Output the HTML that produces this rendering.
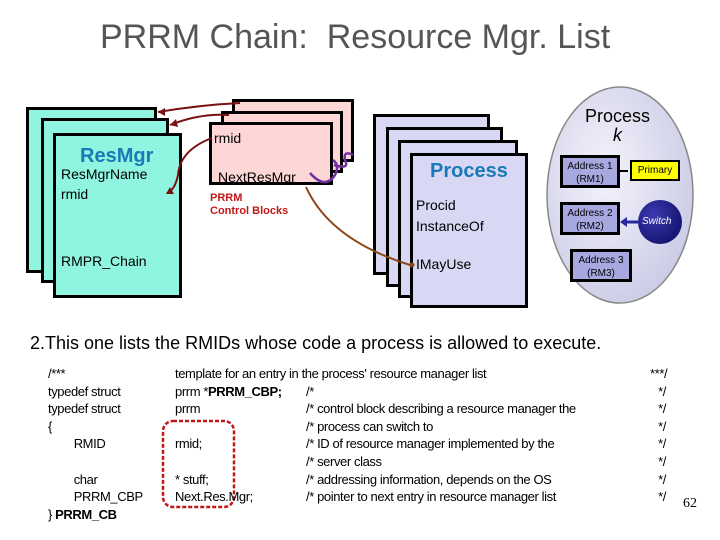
<!DOCTYPE html>
<html><head><meta charset="utf-8"><style>
body{margin:0;width:720px;height:540px;background:#fff;position:relative;overflow:hidden;font-family:"Liberation Sans",sans-serif}
.a{position:absolute;white-space:nowrap}
.c{position:absolute;border:3px solid #000;box-sizing:border-box}
.cy{background:#8ff5e0}.pk{background:#fdd6d6}.pr{background:#d8d8f4}
.ad{position:absolute;background:#a8a8e0;border:3px solid #000;box-sizing:border-box;font-size:10px;text-align:center;line-height:13px;padding-top:2px}
.code{font-size:13px;color:#000;letter-spacing:-0.4px}
</style></head><body>
<div class="a" style="left:100px;top:18px;font-size:34px;color:#555">PRRM Chain:&nbsp; Resource Mgr. List</div>

<div class="c cy" style="left:26px;top:107px;width:131px;height:166px"></div>
<div class="c cy" style="left:41px;top:118px;width:128px;height:165px"></div>
<div class="c cy" style="left:53px;top:133px;width:129px;height:165px"></div>
<div class="a" style="left:80px;top:145px;font-size:20px;font-weight:bold;color:#1a7ab8">Res<span>Mgr</span></div>
<div class="a" style="left:61px;top:166px;font-size:14px">ResMgrName</div>
<div class="a" style="left:61px;top:186px;font-size:14px">rmid</div>
<div class="a" style="left:61px;top:253px;font-size:14px">RMPR_Chain</div>

<div class="c pk" style="left:232px;top:99px;width:122px;height:63px"></div>
<div class="c pk" style="left:221px;top:111px;width:122px;height:62px"></div>
<div class="c pk" style="left:209px;top:122px;width:124px;height:63px"></div>
<div class="a" style="left:214px;top:130px;font-size:14px">rmid</div>
<div class="a" style="left:218px;top:169px;font-size:14px">NextResMgr</div>
<div class="a" style="left:210px;top:192px;font-size:11px;font-weight:bold;color:#c01818;line-height:13px">PRRM<br>Control Blocks</div>

<div class="c pr" style="left:373px;top:114px;width:117px;height:161px"></div>
<div class="c pr" style="left:386px;top:127px;width:117px;height:160px"></div>
<div class="c pr" style="left:398px;top:140px;width:120px;height:158px"></div>
<div class="c pr" style="left:410px;top:153px;width:118px;height:155px"></div>
<div class="a" style="left:430px;top:160px;font-size:20px;font-weight:bold;color:#1a7ab8">Process</div>
<div class="a" style="left:416px;top:197px;font-size:14px">Procid</div>
<div class="a" style="left:416px;top:218px;font-size:14px">InstanceOf</div>
<div class="a" style="left:416px;top:256px;font-size:14px">IMayUse</div>

<svg class="a" style="left:0;top:0" width="720" height="540">
<defs>
<radialGradient id="g" cx="0.4" cy="0.4" r="0.7"><stop offset="0" stop-color="#f4f4fc"/><stop offset="1" stop-color="#c8c8e4"/></radialGradient>
<radialGradient id="s" cx="0.35" cy="0.35" r="0.7"><stop offset="0" stop-color="#3a3ab0"/><stop offset="1" stop-color="#141470"/></radialGradient>
</defs>
<ellipse cx="620" cy="195" rx="73" ry="108" fill="url(#g)" stroke="#888" stroke-width="1.5"/>
<circle cx="660" cy="222" r="22" fill="url(#s)"/>
<g fill="none" stroke="#7a1010" stroke-width="2">
<path d="M158 112 Q200 105 240 103"/><path d="M170 125 Q200 113 229 115"/><path d="M212 138 Q180 150 178 175 Q175 190 167 193"/>
</g>
<g fill="#7a1010"><polygon points="158,112 165,108 165,116"/><polygon points="170,125 176,119 178,127"/><polygon points="166,194 170,187 174,194"/></g>
<g fill="none" stroke="#7030a0" stroke-width="2.5">
<path d="M310 173 Q325 190 335 175 Q340 165 333 160"/><path d="M334 165 Q350 170 345 160 Q343 150 353 155"/>
</g>
<path d="M306 187 Q330 240 410 265" fill="none" stroke="#8b4513" stroke-width="2"/>
<circle cx="412" cy="265" r="2.5" fill="#8b4513"/>
<path d="M620 171 L628 171" stroke="#000" stroke-width="2"/>
<path d="M638 222 L622 222" stroke="#2828a0" stroke-width="3"/><polygon points="620,222 627,217 627,227" fill="#2828a0"/>
<rect x="163" y="421" width="71" height="86" rx="10" fill="none" stroke="#c01818" stroke-width="2.5" stroke-dasharray="4,2"/>
</svg>
<div class="a" style="left:585px;top:107px;font-size:18px;text-align:center;line-height:19px">Process<br><i>k</i></div>
<div class="ad" style="left:560px;top:155px;width:60px;height:33px">Address 1<br>(RM1)</div>
<div class="ad" style="left:560px;top:202px;width:60px;height:33px">Address 2<br>(RM2)</div>
<div class="ad" style="left:570px;top:249px;width:62px;height:33px">Address 3<br>(RM3)</div>
<div class="a" style="left:630px;top:160px;width:50px;height:21px;background:#ffff00;border:2px solid #000;box-sizing:border-box;font-size:10px;text-align:center;line-height:17px">Primary</div>
<div class="a" style="left:642px;top:216px;font-size:10px;font-style:italic;color:#fff">Switch</div>

<div class="a" style="left:30px;top:333px;font-size:18px;color:#000">2.This one lists the RMIDs whose code a process is allowed to execute.</div>

<div class="a code" style="left:48px;top:365px;line-height:17.6px">/***<br>typedef struct<br>typedef struct<br>{<br>&nbsp;&nbsp;&nbsp;&nbsp;&nbsp;&nbsp;&nbsp;&nbsp;RMID<br><br>&nbsp;&nbsp;&nbsp;&nbsp;&nbsp;&nbsp;&nbsp;&nbsp;char<br>&nbsp;&nbsp;&nbsp;&nbsp;&nbsp;&nbsp;&nbsp;&nbsp;PRRM_CBP<br>} <b>PRRM_CB</b></div>
<div class="a code" style="left:175px;top:365px;line-height:17.6px">template for an entry in the process' resource manager list<br>prrm *<b>PRRM_CBP;</b><br>prrm<br><br>rmid;<br><br>* stuff;<br>Next.Res.Mgr;</div>
<div class="a code" style="left:306px;top:382.6px;line-height:17.6px">/*<br>/* control block describing a resource manager the<br>/* process can switch to<br>/* ID of resource manager implemented by the<br>/* server class<br>/* addressing information, depends on the OS<br>/* pointer to next entry in resource manager list</div>
<div class="a code" style="left:650px;top:365px;line-height:17.6px;text-align:right;width:16px">***/<br>*/<br>*/<br>*/<br>*/<br>*/<br>*/<br>*/</div>
<div class="a" style="left:683px;top:496px;font-size:14px;font-family:'Liberation Serif',serif">62</div>
</body></html>
